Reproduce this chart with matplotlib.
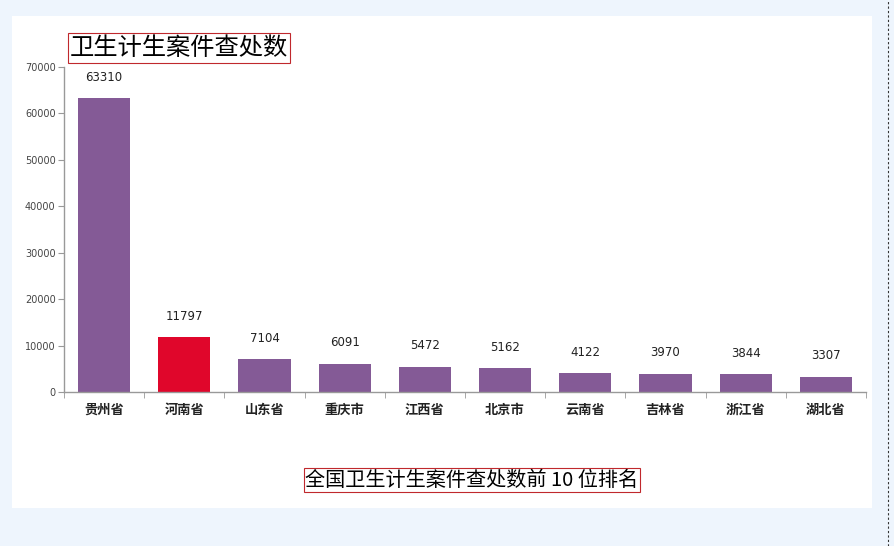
import matplotlib
matplotlib.use("Agg")
import matplotlib.pyplot as plt
from matplotlib.patches import Rectangle
from matplotlib.lines import Line2D

plt.rcParams['font.family'] = ['Noto Sans CJK SC', 'DejaVu Sans']

# ---------- data ------------------------------------------------------
provinces = ["贵州省", "河南省", "山东省", "重庆市", "江西省",
             "北京市", "云南省", "吉林省", "浙江省", "湖北省"]
cases = [63310, 11797, 7104, 6091, 5472, 5162, 4122, 3970, 3844, 3307]
highlight = "河南省"
yticks = [0, 10000, 20000, 30000, 40000, 50000, 60000, 70000]

PURPLE = "#845a96"
RED = "#e0062b"
W, H = 894, 546

# ---------- figure ----------------------------------------------------
fig = plt.figure(figsize=(W / 100, H / 100), dpi=100)
fig.patch.set_facecolor("#eef5fd")

# white panel + dashed edge line
fig.patches.append(Rectangle((12 / W, 1 - 508 / H), (872 - 12) / W, (508 - 16) / H,
                             transform=fig.transFigure, facecolor="white",
                             edgecolor="none", zorder=-5))
fig.lines.append(Line2D([888 / W, 888 / W], [0, 1], transform=fig.transFigure,
                        color="#333333", lw=0.8, ls=(0, (2, 2))))

ax = fig.add_axes([64 / W, 1 - 392 / H, (866 - 64) / W, (392 - 67) / H])
ax.set_zorder(2)
ax.set_facecolor("none")

x = list(range(len(provinces)))
colors = [RED if p == highlight else PURPLE for p in provinces]
ax.bar(x, cases, width=0.65, color=colors, zorder=2)

for xi, v in zip(x, cases):
    ax.annotate(f"{v}", (xi, v), xytext=(0, 15), textcoords="offset points",
                ha="center", va="center", fontsize=8.5, color="#222222",
                family="DejaVu Sans")

ax.set_xlim(-0.5, len(provinces) - 0.5)
ax.set_ylim(0, 70000)
ax.set_yticks(yticks)
ax.set_yticklabels([str(t) for t in yticks], fontsize=7, color="#444444",
                   family="DejaVu Sans")
ax.set_xticks(x)
ax.set_xticklabels(provinces, fontsize=9.5, color="#222222", fontweight="bold")
ax.set_xticks([i + 0.5 for i in range(-1, len(provinces))], minor=True)
ax.tick_params(axis="x", which="major", length=0, pad=8)
ax.tick_params(axis="x", which="minor", length=4, color="#999999", direction="out")
ax.tick_params(axis="y", length=4, color="#999999", pad=2)

for s in ["top", "right"]:
    ax.spines[s].set_visible(False)
for s in ["left", "bottom"]:
    ax.spines[s].set_color("#999999")
    ax.spines[s].set_linewidth(1.0)

# titles in red boxes
box = dict(boxstyle="square,pad=0.08", facecolor="white", edgecolor="#c0282d", lw=0.8)
fig.text(179 / W, 1 - 48 / H, "卫生计生案件查处数", ha="center", va="center",
         fontsize=17.5, color="black", fontweight="medium", bbox=box)
fig.text(472 / W, 1 - 480 / H, "全国卫生计生案件查处数前 10 位排名", ha="center",
         va="center", fontsize=14.5, color="black", fontweight="medium", bbox=box)

plt.savefig("out.png", dpi=100, facecolor=fig.get_facecolor())
